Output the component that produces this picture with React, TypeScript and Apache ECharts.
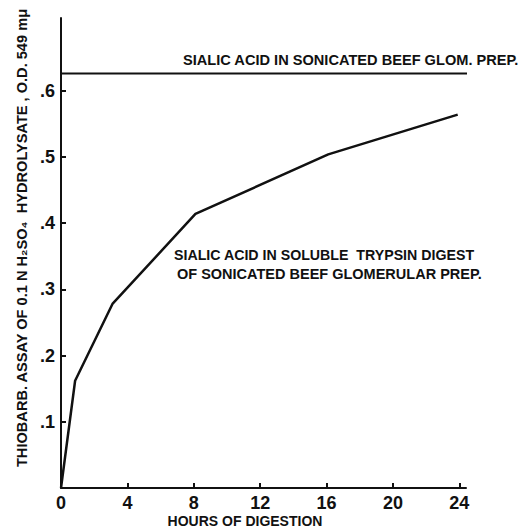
import React, { useEffect, useRef } from "react";
import * as echarts from "echarts";

const hours = [0, 0.85, 3.1, 8.1, 16.1, 23.9];
const digestValues = [0.0, 0.162, 0.278, 0.414, 0.504, 0.564];
const glomLevel = 0.626;
const glomLineEnd = 27.6;
const xTicks = [0, 4, 8, 12, 16, 20, 24];
const yTicks = [0.1, 0.2, 0.3, 0.4, 0.5, 0.6];

const yName = "THIOBARB. ASSAY OF 0.1 N H\u2082SO\u2084  HYDROLYSATE , O.D. 549 m\u03bc";
const xName = "HOURS OF DIGESTION";
const glomLabel = "SIALIC ACID IN SONICATED BEEF GLOM. PREP.";
const digestLabel1 = "SIALIC ACID IN SOLUBLE  TRYPSIN DIGEST";
const digestLabel2 = "OF SONICATED BEEF GLOMERULAR PREP.";

const FONT = "'Liberation Sans', Arial, sans-serif";

export default function App() {
  const ref = useRef<HTMLDivElement>(null);
  useEffect(() => {
    if (!ref.current) return;
    const chart = echarts.init(ref.current, undefined, { renderer: "svg" });
    const lineData = hours.map((h, i) => [h, digestValues[i]]);
    chart.setOption({
      animation: false,
      backgroundColor: "#fff",
      grid: { left: 61, top: 18, right: 59, bottom: 44, containLabel: false },
      xAxis: {
        type: "value",
        min: 0,
        max: 24.4,
        interval: 4,
        splitLine: { show: false },
        axisLine: { lineStyle: { color: "#111", width: 2 } },
        axisTick: { inside: true, length: 5, lineStyle: { color: "#111", width: 2 }, customValues: xTicks.filter((v) => v > 0) },
        axisLabel: {
          customValues: xTicks,
          color: "#111",
          fontFamily: FONT,
          fontWeight: "bold",
          fontSize: 18,
          margin: 6,
        },
      },
      yAxis: {
        type: "value",
        min: 0,
        max: 0.71,
        interval: 0.1,
        splitLine: { show: false },
        axisLine: { lineStyle: { color: "#111", width: 2 } },
        axisTick: { inside: true, length: 5, lineStyle: { color: "#111", width: 2 }, customValues: yTicks },
        axisLabel: {
          customValues: yTicks,
          color: "#111",
          fontFamily: FONT,
          fontWeight: "bold",
          fontSize: 18,
          margin: 6,
          formatter: (v: number) => "." + Math.round(v * 10),
        },
      },
      graphic: [
        {
          type: "text",
          x: 22,
          y: 238,
          rotation: Math.PI / 2,
          style: {
            text: yName,
            fill: "#111",
            font: `bold 14.6px ${FONT}`,
            textAlign: "center",
            textVerticalAlign: "middle",
          },
        },
        {
          type: "text",
          x: 245,
          y: 521,
          style: { text: xName, fill: "#111", font: `bold 14px ${FONT}`, textAlign: "center", textVerticalAlign: "middle" },
        },
        {
          type: "text",
          x: 183,
          y: 60,
          style: { text: glomLabel, fill: "#111", font: `bold 14.6px ${FONT}`, textAlign: "left", textVerticalAlign: "middle" },
        },
        {
          type: "text",
          x: 174,
          y: 255,
          style: { text: digestLabel1, fill: "#111", font: `bold 14.2px ${FONT}`, textAlign: "left", textVerticalAlign: "middle" },
        },
        {
          type: "text",
          x: 177,
          y: 274,
          style: { text: digestLabel2, fill: "#111", font: `bold 14.5px ${FONT}`, textAlign: "left", textVerticalAlign: "middle" },
        },
      ],
      series: [
        {
          type: "line",
          data: lineData,
          symbol: "none",
          lineStyle: { color: "#111", width: 2.5 },
        },
        {
          type: "line",
          data: [[0, glomLevel], [glomLineEnd, glomLevel]],
          symbol: "none",
          clip: false,
          lineStyle: { color: "#111", width: 2 },
        },
      ],
    });
    return () => chart.dispose();
  }, []);
  return <div ref={ref} style={{ width: 525, height: 532, position: "absolute", left: 0, top: 0 }} />;
}
